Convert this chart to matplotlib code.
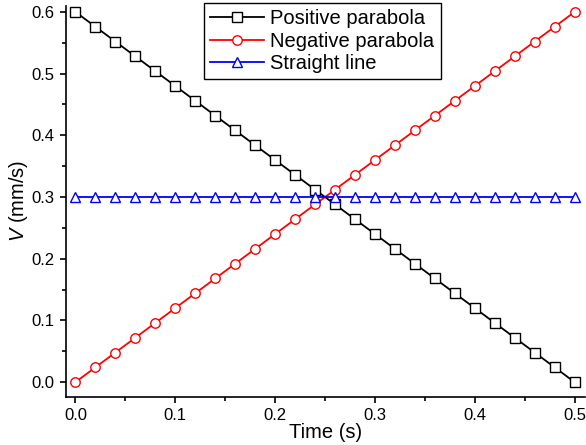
import matplotlib.pyplot as plt
from matplotlib.ticker import MultipleLocator

plt.rcParams['font.family'] = ['Liberation Sans', 'DejaVu Sans']
plt.rcParams['mathtext.fontset'] = 'custom'
plt.rcParams['mathtext.it'] = 'Liberation Sans:italic'
plt.rcParams['mathtext.rm'] = 'Liberation Sans'

time = [0.00, 0.02, 0.04, 0.06, 0.08, 0.10, 0.12, 0.14, 0.16, 0.18, 0.20, 0.22, 0.24,
        0.26, 0.28, 0.30, 0.32, 0.34, 0.36, 0.38, 0.40, 0.42, 0.44, 0.46, 0.48, 0.50]
v_positive = [0.600, 0.576, 0.552, 0.528, 0.504, 0.480, 0.456, 0.432, 0.408, 0.384, 0.360,
              0.336, 0.312, 0.288, 0.264, 0.240, 0.216, 0.192, 0.168, 0.144, 0.120, 0.096,
              0.072, 0.048, 0.024, 0.000]
v_negative = [0.000, 0.024, 0.048, 0.072, 0.096, 0.120, 0.144, 0.168, 0.192, 0.216, 0.240,
              0.264, 0.288, 0.312, 0.336, 0.360, 0.384, 0.408, 0.432, 0.456, 0.480, 0.504,
              0.528, 0.552, 0.576, 0.600]
v_straight = [0.3] * 26
labels = ['Positive parabola', 'Negative parabola', 'Straight line']

fig = plt.figure(figsize=(5.86, 4.45), dpi=100)
ax = fig.add_axes([0.1126, 0.108, 0.885, 0.879])

ax.plot(time, v_positive, color='black', marker='s', ms=6.5, mfc='white', mec='black',
        mew=1.0, lw=1.3, label=labels[0])
ax.plot(time, v_negative, color='red', marker='o', ms=6.8, mfc='white', mec='red',
        mew=1.0, lw=1.3, label=labels[1])
ax.plot(time, v_straight, color='blue', marker='^', ms=6.8, mfc='white', mec='blue',
        mew=1.0, lw=1.3, label=labels[2])

ax.set_xlim(-0.0095, 0.51)
ax.set_ylim(-0.024, 0.61)
ax.xaxis.set_major_locator(MultipleLocator(0.1))
ax.xaxis.set_minor_locator(MultipleLocator(0.05))
ax.yaxis.set_major_locator(MultipleLocator(0.1))
ax.yaxis.set_minor_locator(MultipleLocator(0.05))
ax.xaxis.set_major_formatter(plt.FormatStrFormatter('%.1f'))
ax.yaxis.set_major_formatter(plt.FormatStrFormatter('%.1f'))

ax.spines['top'].set_visible(False)
ax.spines['right'].set_visible(False)
for s in ['left', 'bottom']:
    ax.spines[s].set_linewidth(1.2)
ax.tick_params(which='major', direction='out', length=4.5, width=1.2, labelsize=12)
ax.tick_params(which='minor', direction='out', length=3, width=1.2)

ax.set_xlabel('Time (s)', fontsize=14.5, labelpad=0)
ax.set_ylabel(r'$V$ (mm/s)', fontsize=14.5, labelpad=1)

leg = ax.legend(loc='upper left', bbox_to_anchor=(204 / 586, 1 - 3 / 445),
                bbox_transform=fig.transFigure, fontsize=14.5, numpoints=1,
                handlelength=2.7, fancybox=False, framealpha=1, edgecolor='black',
                borderpad=0.3, labelspacing=0.18, handletextpad=0.3, borderaxespad=0)
leg.get_frame().set_linewidth(1.0)

fig.savefig('out.png', dpi=100)
